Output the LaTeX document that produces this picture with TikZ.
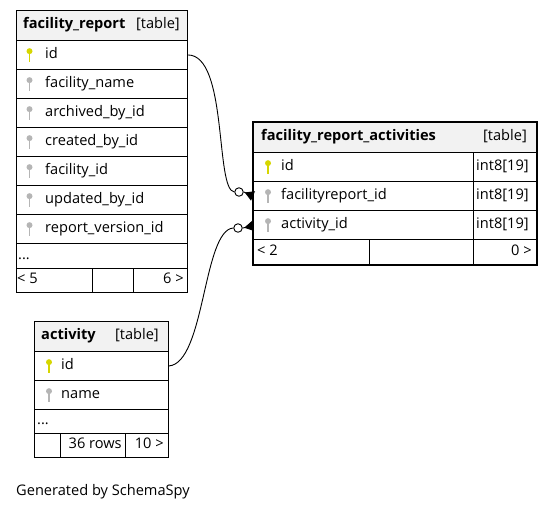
\documentclass[tikz,border=0pt]{standalone}
\usepackage{fontspec}
\setmainfont{Open Sans}
\usetikzlibrary{positioning,calc,arrows.meta}
\definecolor{hdrgray}{HTML}{F2F2F2}
\definecolor{pkyellow}{HTML}{D6D600}
\definecolor{fkgray}{HTML}{B5B5B5}
\tikzstyle{cell} = [draw, anchor=north west, inner sep=0, minimum height=29, line width=0.9pt]
\tikzstyle{hcell} = [cell, fill=hdrgray, minimum height=30]
\tikzstyle{fld} = [inner sep=0, text height=10.5, text depth=3.5, font=\fontsize{14.6}{17}\selectfont]
\tikzstyle{hfld} = [fld, font=\fontsize{14.6}{17}\selectfont\bfseries]
\tikzstyle{relline} = [line width=0.9pt]
\tikzstyle{odot} = [circle, draw, fill=white, minimum size=8.5, inner sep=0, line width=0.9pt]
\tikzstyle{crow} = [line width=0.9pt, -{Triangle[reversed,length=9pt,width=10pt]}]
\tikzset{pics/fkey/.style={code={
  \fill[#1] (0,-3.8) circle (3);
  \fill[#1] (-0.9,-3) rectangle (0.9,7.5);}}}

\begin{document}
\begin{tikzpicture}[x=1pt,y=-1pt]
\useasboundingbox (0,0) rectangle (553,512);
% facility_report
\node[hcell, minimum width=171] (frHead) at (16,10) {};
\node[hfld, anchor=west] (frTitle) at (23,25) {facility\_report};
\node[fld, anchor=east] (frTag) at (180,25) {[table]};
\node[cell, minimum width=171] (frId) at (16,40) {};
\node[cell, minimum width=171] (frFname) at (16,69) {};
\node[cell, minimum width=171] (frArch) at (16,98) {};
\node[cell, minimum width=171] (frCreat) at (16,127) {};
\node[cell, minimum width=171] (frFac) at (16,156) {};
\node[cell, minimum width=171] (frUpd) at (16,185) {};
\node[cell, minimum width=171] (frVer) at (16,214) {};
\node[cell, minimum width=171, minimum height=25] (frMore) at (16,243) {};
\node[cell, minimum width=76, minimum height=24] (frF1) at (16,268) {};
\node[cell, minimum width=41, minimum height=24] (frF2) at (92,268) {};
\node[cell, minimum width=54, minimum height=24] (frF3) at (133,268) {};
\pic at ($(frId.west)+(13.5,0)$) {fkey=pkyellow};
\pic at ($(frFname.west)+(13.5,0)$) {fkey=fkgray};
\pic at ($(frArch.west)+(13.5,0)$) {fkey=fkgray};
\pic at ($(frCreat.west)+(13.5,0)$) {fkey=fkgray};
\pic at ($(frFac.west)+(13.5,0)$) {fkey=fkgray};
\pic at ($(frUpd.west)+(13.5,0)$) {fkey=fkgray};
\pic at ($(frVer.west)+(13.5,0)$) {fkey=fkgray};
\node[fld, right=29pt of frId.west] (frIdT) {id};
\node[fld, right=29pt of frFname.west] (frFnameT) {facility\_name};
\node[fld, right=29pt of frArch.west] (frArchT) {archived\_by\_id};
\node[fld, right=29pt of frCreat.west] (frCreatT) {created\_by\_id};
\node[fld, right=29pt of frFac.west] (frFacT) {facility\_id};
\node[fld, right=29pt of frUpd.west] (frUpdT) {updated\_by\_id};
\node[fld, right=29pt of frVer.west] (frVerT) {report\_version\_id};
\node[fld, right=2pt of frMore.west] (frMoreT) {...};
\node[fld, right=1pt of frF1.west] (frF1T) {< 5};
\node[fld, left=4pt of frF3.east] (frF3T) {6 >};
% facility_report_activities
\node[hcell, minimum width=283] (fraHead) at (253,122) {};
\node[hfld, anchor=west] (fraTitle) at (261,137) {facility\_report\_activities};
\node[fld, anchor=east] (fraTag) at (527,137) {[table]};
\node[cell, minimum width=220] (fraId) at (253,152) {};
\node[cell, minimum width=220] (fraFac) at (253,181) {};
\node[cell, minimum width=220] (fraAct) at (253,210) {};
\node[cell, minimum width=63] (fraIdTy) at (473,152) {};
\node[cell, minimum width=63] (fraFacTy) at (473,181) {};
\node[cell, minimum width=63] (fraActTy) at (473,210) {};
\node[cell, minimum width=116, minimum height=25] (fraF1) at (253,239) {};
\node[cell, minimum width=104, minimum height=25] (fraF2) at (369,239) {};
\node[cell, minimum width=63, minimum height=25] (fraF3) at (473,239) {};
\draw[line width=2.6pt] (fraHead.north west) rectangle (fraF3.south east);
\pic at ($(fraId.west)+(15,0)$) {fkey=pkyellow};
\pic at ($(fraFac.west)+(15,0)$) {fkey=fkgray};
\pic at ($(fraAct.west)+(15,0)$) {fkey=fkgray};
\node[fld, right=28pt of fraId.west] (fraIdT) {id};
\node[fld, right=28pt of fraFac.west] (fraFacT) {facilityreport\_id};
\node[fld, right=28pt of fraAct.west] (fraActT) {activity\_id};
\node[fld, right=3pt of fraIdTy.west] (fraIdTyT) {int8[19]};
\node[fld, right=3pt of fraFacTy.west] (fraFacTyT) {int8[19]};
\node[fld, right=3pt of fraActTy.west] (fraActTyT) {int8[19]};
\node[fld, right=4pt of fraF1.west] (fraF1T) {< 2};
\node[fld, left=5pt of fraF3.east] (fraF3T) {0 >};
% activity
\node[hcell, minimum width=134] (actHead) at (34,321) {};
\node[hfld, anchor=west] (actTitle) at (41,336) {activity};
\node[fld, anchor=east] (actTag) at (159,336) {[table]};
\node[cell, minimum width=134] (actId) at (34,351) {};
\node[cell, minimum width=134] (actName) at (34,380) {};
\node[cell, minimum width=134, minimum height=24] (actMore) at (34,409) {};
\node[cell, minimum width=26, minimum height=24] (actF1) at (34,433) {};
\node[cell, minimum width=65, minimum height=24] (actF2) at (60,433) {};
\node[cell, minimum width=43, minimum height=24] (actF3) at (125,433) {};
\pic at ($(actId.west)+(15,0)$) {fkey=pkyellow};
\pic at ($(actName.west)+(15,0)$) {fkey=fkgray};
\node[fld, right=27pt of actId.west] (actIdT) {id};
\node[fld, right=27pt of actName.west] (actNameT) {name};
\node[fld, right=3pt of actMore.west] (actMoreT) {...};
\node[fld, left=4pt of actF2.east] (actF2T) {36 rows};
\node[fld, left=5pt of actF3.east] (actF3T) {10 >};
% relations
\node[odot] (o1) at (239,192) {};
\node[odot] (o2) at (238,228) {};
\draw[relline] (frId.east) .. controls (228,55) and (215,190) .. (o1.west);
\draw[relline] (actId.east) .. controls (205,363) and (203,230) .. (o2.west);
\draw[crow] (o1.east) -- (fraFac.west);
\draw[crow] (o2.east) -- ($(fraAct.west)+(0,1)$);
\node[fld, anchor=west] (gen) at (16,492) {Generated by SchemaSpy};
\end{tikzpicture}
\end{document}
